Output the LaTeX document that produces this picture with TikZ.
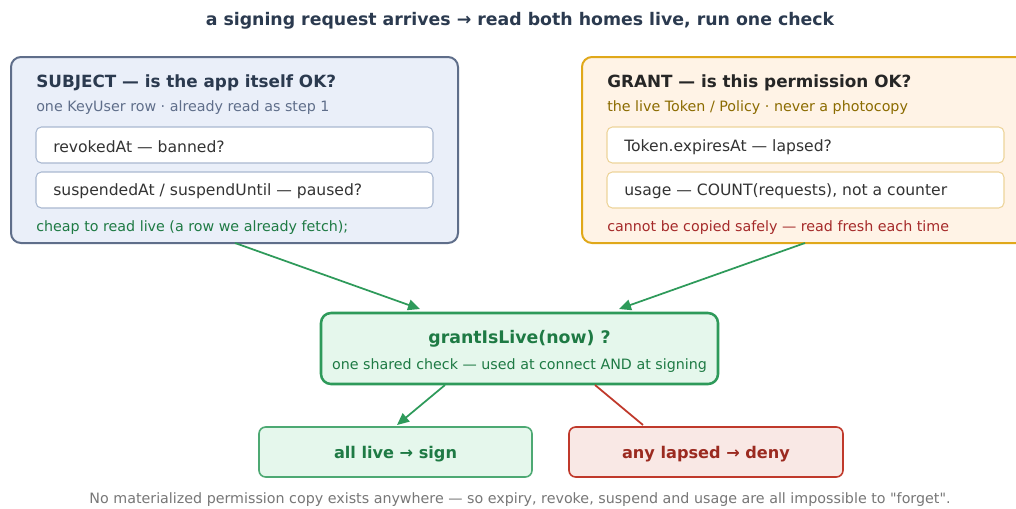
\documentclass[tikz,border=0pt]{standalone}
\usepackage{fontspec}
\setmainfont{DejaVu Sans}
\newfontfamily\plainq[Ligatures=ResetAll]{DejaVu Sans}
\usetikzlibrary{arrows.meta}
\definecolor{ink}{HTML}{2B3A4F}
\definecolor{slate}{HTML}{5F6E8A}
\definecolor{subjfill}{HTML}{EAEFF9}
\definecolor{subjin}{HTML}{A9B8D0}
\definecolor{gold}{HTML}{E0A81A}
\definecolor{grantfill}{HTML}{FFF3E6}
\definecolor{grantin}{HTML}{EDD49A}
\definecolor{olive}{HTML}{8B6B00}
\definecolor{darkred}{HTML}{A52A2A}
\definecolor{gfill}{HTML}{E5F7EC}
\definecolor{gline}{HTML}{2E9A5A}
\definecolor{gtext}{HTML}{1E7A44}
\definecolor{rfill}{HTML}{F9E8E5}
\definecolor{rline}{HTML}{C0392B}
\definecolor{rtext}{HTML}{9B2A20}
\definecolor{foot}{HTML}{777777}
\definecolor{body}{HTML}{333333}
\tikzset{
  px/.style={x=0.75pt,y=-0.75pt},
  outerbox/.style={rounded corners=7.5pt, line width=1.5pt},
  innerbox/.style={draw=#1, fill=white, rounded corners=4pt, line width=0.8pt},
  txt/.style={anchor=west, inner sep=0pt, font=\fontsize{#1}{#1}\selectfont},
  btxt/.style={anchor=west, inner sep=0pt, font=\bfseries\fontsize{#1}{#1}\selectfont},
  ctxt/.style={anchor=center, inner sep=0pt, font=\fontsize{#1}{#1}\selectfont},
  bctxt/.style={anchor=center, inner sep=0pt, font=\bfseries\fontsize{#1}{#1}\selectfont},
  arr/.style={draw=gline, line width=1.3pt, -{Triangle[length=9pt,width=8pt]}},
}
\begin{document}
\begin{tikzpicture}[px]
\useasboundingbox[fill=white] (0,0) rectangle (1016,508);
% title
\node[bctxt=13pt, text=ink] (title) at (520,20.5) {a signing request arrives → read both homes live, run one check};
% subject
\draw[outerbox, draw=slate, fill=subjfill] (11,57) rectangle (458,243);
\node[btxt=12.6pt, text=ink] (subjt) at (36,83) {SUBJECT — is the app itself OK?};
\node[txt=10.7pt, text=slate] (subjs) at (36,107.5) {one KeyUser row · already read as step 1};
\draw[innerbox=subjin] (36,127) rectangle (433,163);
\node[txt=11.7pt, text=body] (s1) at (53,147) {revokedAt — banned?};
\draw[innerbox=subjin] (36,172) rectangle (433,208);
\node[txt=11.7pt, text=body] (s2) at (53,191.5) {suspendedAt / suspendUntil — paused?};
\node[txt=10.7pt, text=gtext] (subjf) at (36,227.5) {cheap to read live (a row we already fetch);};
% grant
\draw[outerbox, draw=gold, fill=grantfill] (582,57) rectangle (1040,243);
\node[btxt=12.6pt, text=black!85] (grt) at (607,83) {GRANT — is this permission OK?};
\node[txt=10.7pt, text=olive] (grs) at (607,107.5) {the live Token / Policy · never a photocopy};
\draw[innerbox=grantin] (607,127) rectangle (1004,163);
\node[txt=11.7pt, text=body] (g1) at (624,147) {Token.expiresAt — lapsed?};
\draw[innerbox=grantin] (607,172) rectangle (1004,208);
\node[txt=11.7pt, text=body] (g2) at (624,191.5) {usage — COUNT(requests), not a counter};
\node[txt=10.7pt, text=darkred] (grf) at (607,227.5) {cannot be copied safely — read fresh each time};
% central
\draw[outerbox, draw=gline, fill=gfill, line width=1.9pt] (321,313) rectangle (718,384);
\node[bctxt=13pt, text=gtext] (ct) at (519.5,338.5) {grantIsLive(now) ?};
\node[ctxt=10.7pt, text=gtext] (cs) at (519.5,365.5) {one shared check — used at connect AND at signing};
% outcomes
\draw[draw=gline!85, fill=gfill, rounded corners=5pt, line width=1.2pt] (259,427) rectangle (532,477);
\node[bctxt=12.1pt, text=gtext] (sign) at (395.5,454) {all live → sign};
\draw[draw=rline, fill=rfill, rounded corners=5pt, line width=1.2pt] (569,427) rectangle (843,477);
\node[bctxt=12.1pt, text=rtext] (deny) at (706,454) {any lapsed → deny};
% connectors
\coordinate (subjout) at (235,243);
\coordinate (grantout) at (805,243);
\coordinate (cin1) at (420,309);
\coordinate (cin2) at (619,309);
\coordinate (cout1) at (445,385);
\coordinate (cout2) at (595,385);
\coordinate (signin) at (397,425);
\coordinate (denyin) at (643,425);
\draw[arr] (subjout) -- (cin1);
\draw[arr] (grantout) -- (cin2);
\draw[arr] (cout1) -- (signin);
\draw[draw=rline, line width=1.3pt] (cout2) -- (denyin);
% footer
\node[ctxt=10.7pt, text=foot] (footer) at (520,499.5) {No materialized permission copy exists anywhere — so expiry, revoke, suspend and usage are all impossible to {\plainq"}forget{\plainq"}.};
\end{tikzpicture}
\end{document}
